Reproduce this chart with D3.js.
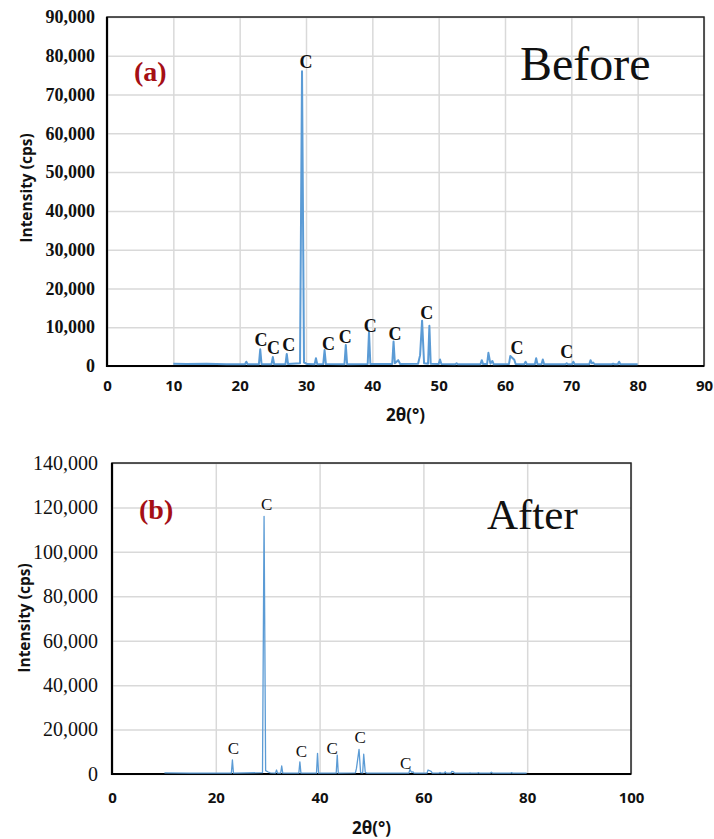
<!DOCTYPE html>
<html>
<head>
<meta charset="utf-8">
<script src="https://cdn.jsdelivr.net/npm/d3@7"></script>
<style>
  body { margin: 0; background: #fff; }
  svg { display: block; }
  .grid line { stroke: #d9d9d9; stroke-width: 1.5; }
  .grid path { display: none; }
</style>
</head>
<body>
<script>
// page size
var w = 714;
var h = 839;

// ---- data: [2θ, intensity] ----
var beforePattern = [
    [10.0, 600], [12, 500], [15, 550], [18, 450], [20.8, 450], [21.0, 1100], [21.2, 450],
    [22.9, 450], [23.1, 4300], [23.3, 450], [24.8, 450], [25.0, 2300], [25.2, 450],
    [26.9, 450], [27.1, 3100], [27.3, 500], [29.1, 700], [29.4, 76000], [29.7, 900],
    [30.2, 500], [31.3, 450], [31.5, 2000], [31.7, 450], [32.6, 500], [32.8, 4100],
    [33.0, 500], [35.8, 450], [36.0, 5400], [36.2, 450], [39.3, 500], [39.5, 8800],
    [39.7, 500], [43.0, 500], [43.2, 6300], [43.4, 700], [43.9, 1500], [44.2, 500],
    [46.9, 600], [47.2, 2800], [47.5, 11700], [47.8, 700], [48.4, 600], [48.6, 10400],
    [48.8, 600], [50.0, 500], [50.2, 1700], [50.4, 500], [52.5, 450], [52.7, 700],
    [52.9, 450], [56.3, 450], [56.5, 1500], [56.7, 500], [57.3, 500], [57.5, 3400],
    [57.8, 600], [58.1, 1300], [58.3, 450], [60.6, 500], [60.8, 2600], [61.4, 1600],
    [61.6, 500], [62.9, 450], [63.1, 1100], [63.3, 450], [64.5, 450], [64.7, 2000],
    [64.9, 450], [65.5, 450], [65.7, 1700], [65.9, 450], [69.1, 450], [69.3, 700],
    [69.5, 450], [70.1, 450], [70.3, 1100], [70.5, 450], [72.7, 450], [72.9, 1500],
    [73.1, 700], [73.3, 900], [73.5, 450], [76.1, 450], [76.3, 600], [76.5, 450],
    [77.0, 450], [77.2, 1100], [77.4, 450], [80, 450]
];

var afterPattern = [
    [10.1, 500], [15, 400], [20, 400], [23.0, 400], [23.2, 6300], [23.4, 400],
    [29.0, 600], [29.3, 116000], [29.6, 1500], [30.1, 900], [30.5, 500], [31.5, 400],
    [31.7, 1800], [31.9, 400], [32.5, 400], [32.7, 3600], [32.9, 400], [36.0, 400],
    [36.2, 5500], [36.4, 400], [39.4, 400], [39.6, 9300], [39.8, 400], [43.2, 400],
    [43.4, 8500], [43.6, 400], [46.9, 500], [47.1, 2500], [47.6, 11100], [47.9, 600],
    [48.3, 500], [48.5, 8900], [48.8, 700], [49.1, 400], [57.2, 400], [57.4, 2100],
    [57.7, 800], [58.0, 1000], [58.2, 400], [60.7, 400], [60.9, 1800], [61.5, 1200],
    [61.7, 400], [63.0, 400], [63.2, 700], [63.4, 400], [64.0, 400], [64.2, 1000],
    [64.4, 400], [65.3, 400], [65.5, 1200], [65.8, 1000], [66.0, 400], [68.8, 400],
    [69.0, 500], [69.2, 400], [70.4, 400], [70.6, 600], [70.8, 400], [72.9, 400],
    [73.1, 800], [73.3, 400], [76.8, 400], [77.0, 600], [77.2, 400], [79.9, 400]
];

// "C" (calcite) marks: [2θ, intensity] where each letter sits
var beforeMarks = [
    [30.0, 78400], [23.2, 6700], [25.1, 4640], [27.4, 5400], [33.4, 5670], [35.9, 7550],
    [39.7, 10390], [43.4, 8250], [48.2, 13740], [61.8, 4640], [69.3, 3690]
];
var afterMarks = [
    [29.8, 121500], [23.4, 11570], [36.5, 10490], [42.4, 11570], [47.8, 16520], [56.6, 5090]
];

// axis ticks
var beforeXTicks = [0, 10, 20, 30, 40, 50, 60, 70, 80, 90];
var beforeYTicks = [0, 10000, 20000, 30000, 40000, 50000, 60000, 70000, 80000, 90000];
var afterXTicks = [0, 20, 40, 60, 80, 100];
var afterYTicks = [0, 20000, 40000, 60000, 80000, 100000, 120000, 140000];

var lineColor = "#5b9bd5";

var svg = d3.select("body").append("svg")
    .attr("width", w)
    .attr("height", h);

function drawPanel(o) {
    var x = d3.scaleLinear().domain(o.xDomain).range([o.left, o.right]);
    var y = d3.scaleLinear().domain(o.yDomain).range([o.bottom, o.top]);
    var g = svg.append("g");

    // grid
    g.append("g")
        .attr("class", "grid")
        .attr("transform", "translate(0," + o.bottom + ")")
        .call(d3.axisBottom(x).tickValues(o.xTicks).tickSize(-(o.bottom - o.top)).tickFormat(""));
    g.append("g")
        .attr("class", "grid")
        .attr("transform", "translate(" + o.left + ",0)")
        .call(d3.axisLeft(y).tickValues(o.yTicks).tickSize(-(o.right - o.left)).tickFormat(""));

    // frame
    g.append("rect")
        .attr("x", o.left).attr("y", o.top)
        .attr("width", o.right - o.left).attr("height", o.bottom - o.top)
        .attr("fill", "none").attr("stroke", "#222").attr("stroke-width", 1.5);
    g.append("path")
        .attr("d", "M" + o.left + "," + o.top + "V" + o.bottom + "H" + o.right)
        .attr("fill", "none").attr("stroke", "#000").attr("stroke-width", 2.2);

    // pattern
    var line = d3.line()
        .x(function (d) { return x(d[0]); })
        .y(function (d) { return y(d[1]); });
    g.append("path")
        .datum(o.data)
        .attr("d", line)
        .attr("fill", "none")
        .attr("stroke", lineColor)
        .attr("stroke-width", o.lineWidth)
        .attr("stroke-linejoin", "round");

    // tick labels
    var xAx = g.append("g")
        .attr("transform", "translate(0," + o.bottom + ")")
        .call(d3.axisBottom(x).tickValues(o.xTicks).tickSize(0).tickPadding(o.xPad).tickFormat(d3.format("d")));
    xAx.select(".domain").remove();
    xAx.selectAll("text")
        .attr("font-family", "'Open Sans', sans-serif")
        .attr("font-weight", "bold")
        .attr("font-size", 15)
        .attr("fill", "#111");

    var yAx = g.append("g")
        .attr("transform", "translate(" + o.left + ",0)")
        .call(d3.axisLeft(y).tickValues(o.yTicks).tickSize(0).tickPadding(o.yPad).tickFormat(d3.format(",")));
    yAx.select(".domain").remove();
    yAx.selectAll("text")
        .attr("font-family", "'Liberation Serif', serif")
        .attr("font-weight", o.yBold ? "bold" : "normal")
        .attr("font-size", o.yFont)
        .attr("fill", "#111");

    // axis titles
    g.append("text")
        .attr("x", (o.left + o.right) / 2)
        .attr("y", o.xTitleY)
        .attr("text-anchor", "middle")
        .attr("font-family", "'Open Sans', sans-serif")
        .attr("font-weight", "bold")
        .attr("font-size", 17)
        .attr("fill", "#111")
        .text("2θ(°)");
    g.append("text")
        .attr("transform", "translate(" + o.yTitleX + "," + o.yTitleY + ") rotate(-90)")
        .attr("text-anchor", "middle")
        .attr("font-family", "'Open Sans', sans-serif")
        .attr("font-weight", "bold")
        .attr("font-size", 15.5)
        .attr("fill", "#111")
        .text("Intensity (cps)");

    // C marks
    g.selectAll(".mark")
        .data(o.marks)
        .enter()
        .append("text")
        .attr("class", "mark")
        .attr("x", function (d) { return x(d[0]); })
        .attr("y", function (d) { return y(d[1]); })
        .attr("dy", "0.35em")
        .attr("text-anchor", "middle")
        .attr("font-family", "'Liberation Serif', serif")
        .attr("font-weight", o.markBold ? "bold" : "normal")
        .attr("font-size", o.markFont)
        .attr("fill", "#111")
        .text("C");

    // panel letter and caption
    g.append("text")
        .attr("x", o.left + 27)
        .attr("y", o.letterY)
        .attr("font-family", "'Liberation Serif', serif")
        .attr("font-weight", "bold")
        .attr("font-size", 28)
        .attr("fill", "#a50f15")
        .text(o.letter);
    g.append("text")
        .attr("x", o.captionX)
        .attr("y", o.captionY)
        .attr("font-family", "'Liberation Serif', serif")
        .attr("font-size", o.captionFont)
        .attr("fill", "#111")
        .text(o.caption);
}

// (a) before
drawPanel({
    data: beforePattern, marks: beforeMarks,
    xDomain: [0, 90], yDomain: [0, 90000], xTicks: beforeXTicks, yTicks: beforeYTicks,
    left: 107, right: 704, top: 17, bottom: 366,
    lineWidth: 2, xPad: 14, yPad: 12, yBold: true, yFont: 18,
    xTitleY: 421, yTitleX: 32, yTitleY: 188,
    markBold: true, markFont: 18,
    letter: "(a)", letterY: 81,
    caption: "Before", captionX: 520, captionY: 80, captionFont: 48
});

// (b) after
drawPanel({
    data: afterPattern, marks: afterMarks,
    xDomain: [0, 100], yDomain: [0, 140000], xTicks: afterXTicks, yTicks: afterYTicks,
    left: 112, right: 631, top: 463, bottom: 774,
    lineWidth: 1.3, xPad: 18, yPad: 14, yBold: false, yFont: 20,
    xTitleY: 834, yTitleX: 30, yTitleY: 618,
    markBold: false, markFont: 17,
    letter: "(b)", letterY: 519,
    caption: "After", captionX: 487, captionY: 529, captionFont: 43
});
</script>
</body>
</html>
